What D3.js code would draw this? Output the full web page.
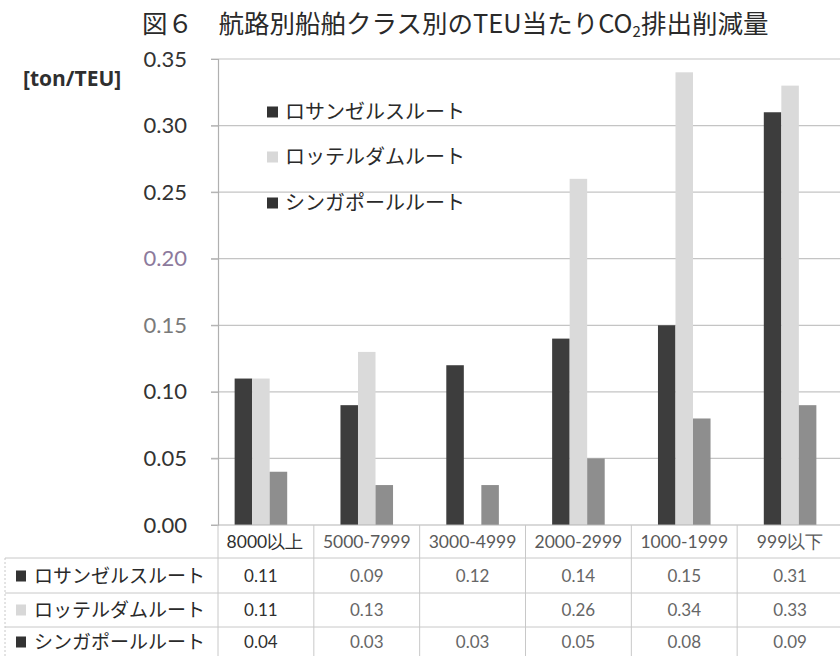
<!DOCTYPE html>
<html>
<head>
<meta charset="utf-8">
<script src="https://cdn.jsdelivr.net/npm/d3@7"></script>
<style>
  html, body { margin: 0; padding: 0; background: #fff; }
  svg { display: block; }
</style>
</head>
<body>
<svg id="chart" width="840" height="656"></svg>
<script>
// Ship size classes (TEU) and routes
const categories = ["8000以上", "5000-7999", "3000-4999", "2000-2999", "1000-1999", "999以下"];
const routes = ["ロサンゼルスルート", "ロッテルダムルート", "シンガポールルート"];

// CO2 reduction per TEU [ton/TEU] by route
const losAngeles = [0.11, 0.09, 0.12, 0.14, 0.15, 0.31];
const rotterdam  = [0.11, 0.13, null, 0.26, 0.34, 0.33];
const singapore  = [0.04, 0.03, 0.03, 0.05, 0.08, 0.09];

const yTicks = [0, 0.05, 0.10, 0.15, 0.20, 0.25, 0.30, 0.35];
const tickColors = ["#333", "#333", "#333", "#7a7a7a", "#8c7a9c", "#333", "#333", "#333"];

const routeValues = [losAngeles, rotterdam, singapore];
const barColors = ["#3d3d3d", "#dadada", "#8e8e8e"];
const markerColors = ["#333333", "#d8d8d8", "#333333"];

const jp = "'Noto Sans CJK JP', sans-serif";
const num = "Lato, 'Open Sans', sans-serif";

const svg = d3.select("#chart");
svg.append("rect").attr("width", 840).attr("height", 656).attr("fill", "#fff");

const axisX = 218;
const x0 = d3.scaleBand().domain(categories).range([208, 843]).paddingInner(0).paddingOuter(0);
const x1 = d3.scaleBand().domain(routes).range([0, x0.bandwidth()]).paddingInner(0).paddingOuter(1.52);
const y = d3.scaleLinear().domain([0, 0.35]).range([525, 59]);

// Title
const title = svg.append("text")
  .attr("x", 142).attr("y", 33)
  .attr("font-family", jp).attr("font-size", 25.5).attr("fill", "#2a2a2a");
title.append("tspan").text("図６　航路別船舶クラス別のTEU当たりCO");
title.append("tspan").attr("font-size", 15).attr("dy", 4).text("2");
title.append("tspan").attr("dy", -4).text("排出削減量");

// Unit label
svg.append("text")
  .attr("x", 23).attr("y", 86)
  .attr("font-family", "'Open Sans', sans-serif").attr("font-weight", 700)
  .attr("font-size", 21).attr("fill", "#2f2f2f")
  .text("[ton/TEU]");

// Gridlines
svg.append("g")
  .selectAll("line")
  .data(yTicks.slice(1))
  .join("line")
  .attr("x1", 211).attr("x2", 840)
  .attr("y1", d => y(d)).attr("y2", d => y(d))
  .attr("stroke", "#c4c4c4").attr("stroke-width", 1.2);

// Y axis
const yAxis = d3.axisLeft(y).tickValues(yTicks).tickFormat(d3.format(".2f")).tickSize(7).tickPadding(24);
const gy = svg.append("g").attr("transform", `translate(${axisX},0)`).call(yAxis);
gy.select(".domain").attr("stroke", "#b0b0b0").attr("stroke-width", 1.2);
gy.selectAll(".tick line").attr("stroke", "#b0b0b0");
gy.selectAll(".tick text")
  .attr("font-family", num).attr("font-size", 22)
  .attr("fill", (d, i) => tickColors[i]);

// Bars
const groups = svg.append("g")
  .selectAll("g")
  .data(categories)
  .join("g")
  .attr("transform", d => `translate(${x0(d)},0)`);

groups.selectAll("rect")
  .data((c, ci) => routes.map((r, ri) => ({ route: r, ri, value: routeValues[ri][ci] })).filter(d => d.value != null))
  .join("rect")
  .attr("x", d => x1(d.route))
  .attr("width", x1.bandwidth())
  .attr("y", d => y(d.value))
  .attr("height", d => y(0) - y(d.value))
  .attr("fill", d => barColors[d.ri]);

// Baseline
svg.append("line")
  .attr("x1", 211).attr("x2", 840).attr("y1", y(0)).attr("y2", y(0))
  .attr("stroke", "#b4b4b4").attr("stroke-width", 1.2);

// Legend inside plot
const legend = svg.append("g");
const legendY = [112, 157, 203];
routes.forEach((r, i) => {
  legend.append("rect")
    .attr("x", 267).attr("y", legendY[i] - 5.5).attr("width", 11).attr("height", 11)
    .attr("fill", markerColors[i]);
  legend.append("text")
    .attr("x", 285).attr("y", legendY[i]).attr("dy", "0.36em")
    .attr("font-family", jp).attr("font-size", 20).attr("fill", "#2a2a2a")
    .text(r);
});

// Data table
const table = svg.append("g");
const rowLines = [558, 593, 627];
const rowCenters = [576, 610, 642];
const gridStroke = "#c8c8c8";

rowLines.forEach(ly => {
  table.append("line").attr("x1", 5).attr("x2", 840).attr("y1", ly).attr("y2", ly)
    .attr("stroke", gridStroke).attr("stroke-width", 1);
});
table.append("line").attr("x1", 5).attr("x2", 5).attr("y1", 558).attr("y2", 656)
  .attr("stroke", gridStroke).attr("stroke-dasharray", "2,2");
table.append("line").attr("x1", axisX).attr("x2", axisX).attr("y1", 525).attr("y2", 656)
  .attr("stroke", gridStroke);
categories.slice(1).forEach(c => {
  table.append("line").attr("x1", x0(c)).attr("x2", x0(c)).attr("y1", 525).attr("y2", 656)
    .attr("stroke", gridStroke);
});

// Header row: size classes
table.selectAll("text.cat")
  .data(categories)
  .join("text")
  .attr("class", "cat")
  .attr("x", d => x0(d) + x0.bandwidth() / 2 + (d === categories[0] ? 4 : 0))
  .attr("y", 542).attr("dy", "0.36em")
  .attr("text-anchor", "middle")
  .attr("font-family", num).attr("font-size", 17.5)
  .attr("fill", (d, i) => i === 0 ? "#2f2f2f" : "#5a5a5a")
  .text(d => d);

// Route rows
const fmt = d3.format(".2f");
routes.forEach((r, ri) => {
  table.append("rect")
    .attr("x", 16).attr("y", rowCenters[ri] - 5.5).attr("width", 10).attr("height", 11)
    .attr("fill", markerColors[ri]);
  table.append("text")
    .attr("x", 34).attr("y", rowCenters[ri]).attr("dy", "0.36em")
    .attr("font-family", jp).attr("font-size", 19).attr("fill", "#2a2a2a")
    .text(r);
  table.selectAll(null)
    .data(categories.map((c, ci) => ({ c, ci, v: routeValues[ri][ci] })).filter(d => d.v != null))
    .join("text")
    .attr("x", d => x0(d.c) + x0.bandwidth() / 2)
    .attr("y", rowCenters[ri]).attr("dy", "0.36em")
    .attr("text-anchor", "middle")
    .attr("font-family", num).attr("font-size", 17)
    .attr("fill", d => d.ci === 0 ? "#2f2f2f" : "#666")
    .text(d => fmt(d.v));
});
</script>
</body>
</html>
